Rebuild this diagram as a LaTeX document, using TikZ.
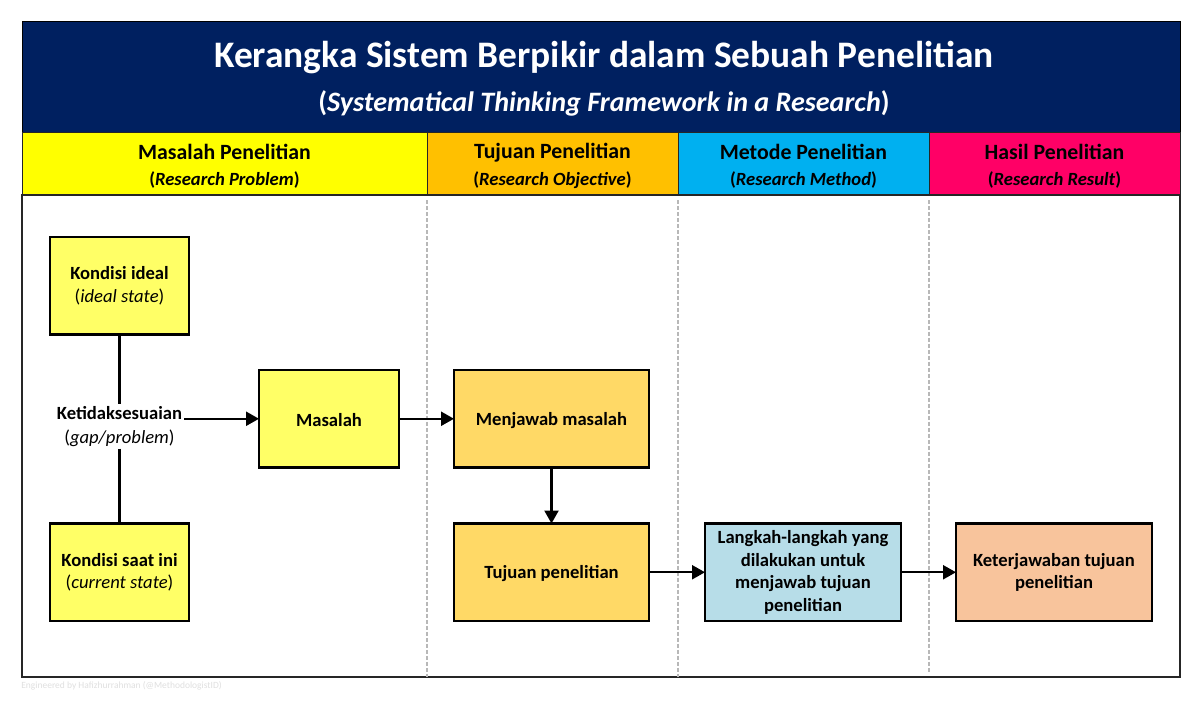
\documentclass[tikz,border=0pt]{standalone}
\usepackage{fontspec}
\setmainfont{Carlito}
\usetikzlibrary{arrows.meta}
\definecolor{navybar}{HTML}{002060}
\definecolor{headyellow}{HTML}{FFFF00}
\definecolor{headorange}{HTML}{FFC000}
\definecolor{headblue}{HTML}{00B0F0}
\definecolor{headpink}{HTML}{FF0066}
\definecolor{boxyellow}{HTML}{FFFF66}
\definecolor{boxorange}{HTML}{FFD966}
\definecolor{boxblue}{HTML}{B7DDE8}
\definecolor{boxpeach}{HTML}{F8C49C}
\tikzset{
	headrect/.style={draw=black!85, line width=0.2mm},
	headlabel/.style={align=center, inner sep=0pt, text=black},
	stepbox/.style={draw=black, line width=0.45mm, align=center, anchor=north west, inner sep=2pt, outer sep=0pt, minimum height=97.5*0.02cm, font=\fontsize{10.6}{12.9}\selectfont\bfseries, execute at begin node={\rule{0pt}{9.3pt}}},
	flowline/.style={line width=0.45mm, draw=black},
	flowarrow/.style={flowline, -{Triangle[length=2.6mm, width=2.8mm]}},
	colline/.style={line width=0.35mm, color=black!28, dash pattern=on 0.8mm off 0.4mm},
}
\newcommand{\headtext}[2]{{\fontsize{12.4}{16}\selectfont\bfseries #1}\\[3pt]{\fontsize{10.6}{13}\selectfont\bfseries (\textit{#2})}}

\begin{document}
\begin{tikzpicture}[x=0.02cm, y=-0.02cm]
		%%%%% START %%%%%
		\useasboundingbox (0, 0) rectangle (1200, 701);
		\fill[white] (0, 0) rectangle (1200, 701);
		
		\draw[draw=black, fill=navybar, line width=0.2mm] (22, 21) rectangle (1180, 132);
		\node[align=center, inner sep=0pt, text=white] (title) at (604, 78.5) {{\fontsize{21.3}{26}\selectfont\bfseries Kerangka Sistem Berpikir dalam Sebuah Penelitian}\\[8.5pt]{\fontsize{16}{18}\selectfont\bfseries (\textit{Systematical Thinking Framework in a Research})}};
		
		\draw[headrect, fill=headyellow] (22, 132) rectangle (427, 195);
		\draw[headrect, fill=headorange] (427, 132) rectangle (678, 195);
		\draw[headrect, fill=headblue] (678, 132) rectangle (929, 195);
		\draw[headrect, fill=headpink] (929, 132) rectangle (1180, 195);
		
		\node[headlabel] (headproblem) at (224.5, 166) {\headtext{Masalah Penelitian}{Research Problem}};
		\node[headlabel] (headobjective) at (552.5, 166) {\headtext{Tujuan Penelitian}{Research Objective}};
		\node[headlabel] (headmethod) at (803.5, 166) {\headtext{Metode Penelitian}{Research Method}};
		\node[headlabel] (headresult) at (1054.5, 166) {\headtext{Hasil Penelitian}{Research Result}};
		
		\draw[line width=0.25mm, color=black!85] (22, 195) rectangle (1180, 677);
		
		\draw[colline] (427, 200) -- (427, 677);
		\draw[colline] (678, 200) -- (678, 677);
		\draw[colline] (929, 200) -- (929, 672);
		
		\node[stepbox, fill=boxyellow, minimum width=139*0.02cm] (ideal) at (50, 237) {Kondisi ideal\\{\mdseries (\textit{ideal state})}};
		\node[stepbox, fill=boxyellow, minimum width=139*0.02cm] (current) at (50, 523.5) {Kondisi saat ini\\{\mdseries (\textit{current state})}};
		\node[stepbox, fill=boxyellow, minimum width=140*0.02cm] (problem) at (259, 370) {Masalah};
		\node[stepbox, fill=boxorange, minimum width=195*0.02cm] (answer) at (454, 370) {Menjawab masalah};
		\node[stepbox, fill=boxorange, minimum width=195*0.02cm] (objective) at (454, 523.5) {Tujuan penelitian};
		\node[stepbox, fill=boxblue, minimum width=196*0.02cm] (method) at (705, 523.5) {Langkah-langkah yang\\dilakukan untuk\\menjawab tujuan\\penelitian};
		\node[stepbox, fill=boxpeach, minimum width=196*0.02cm] (result) at (956, 523.5) {Keterjawaban tujuan\\penelitian};
		
		\node[align=center, inner sep=1pt, font=\fontsize{10.6}{13.4}\selectfont] (gap) at (119.5, 426.5) {\textbf{Ketidaksesuaian}\\(\textit{gap/problem})};
		
		\draw[flowline] (ideal) -- (gap);
		\draw[flowline] (gap) -- (current);
		\draw[flowarrow] (gap.east |- problem.west) -- (problem.west);
		\draw[flowarrow] (problem) -- (answer);
		\draw[flowarrow] (answer) -- (objective);
		\draw[flowarrow] (objective) -- (method);
		\draw[flowarrow] (method) -- (result);
		
		\node[anchor=west, inner sep=0pt, color=black!12, font=\fontsize{5.4}{6}\selectfont] (credit) at (21, 685.5) {Engineered by Hafizhurrahman (@MethodologistID)};
		%%%%% END %%%%%
	\end{tikzpicture}
\end{document}
